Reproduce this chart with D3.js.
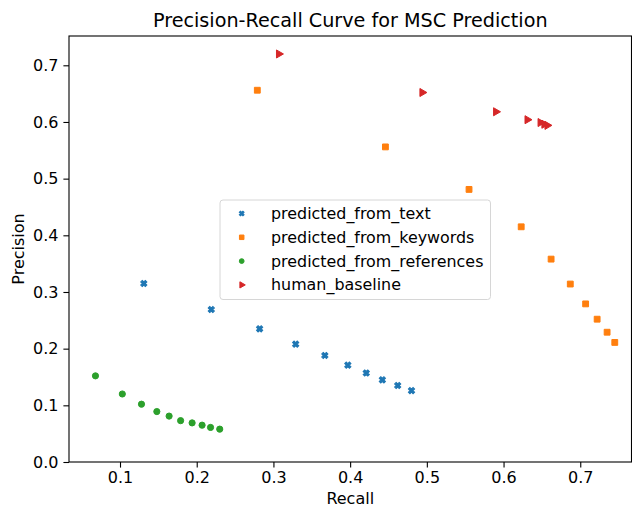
<!DOCTYPE html>
<html>
<head>
<meta charset="utf-8">
<script src="https://cdn.jsdelivr.net/npm/d3@7"></script>
<style>
  body { margin: 0; background: #fff; }
  svg text { font-family: "DejaVu Sans", sans-serif; fill: #000; }
</style>
</head>
<body>
<div id="chart"></div>
<script>
// data
const textRecall = [0.131, 0.219, 0.282, 0.329, 0.367, 0.397, 0.421, 0.442, 0.462, 0.480]
const textPrecision = [0.315, 0.269, 0.235, 0.208, 0.188, 0.171, 0.157, 0.145, 0.135, 0.126]
const keywordsRecall = [0.279, 0.446, 0.555, 0.623, 0.662, 0.687, 0.707, 0.722, 0.735, 0.745]
const keywordsPrecision = [0.656, 0.556, 0.481, 0.415, 0.358, 0.314, 0.279, 0.252, 0.229, 0.211]
const refsRecall = [0.068, 0.103, 0.128, 0.148, 0.164, 0.179, 0.194, 0.207, 0.218, 0.230]
const refsPrecision = [0.152, 0.120, 0.102, 0.089, 0.081, 0.073, 0.069, 0.065, 0.061, 0.058]
const humanRecall = [0.307, 0.494, 0.590, 0.631, 0.648, 0.653, 0.657]
const humanPrecision = [0.720, 0.652, 0.618, 0.604, 0.599, 0.596, 0.594]
const seriesNames = ['predicted_from_text', 'predicted_from_keywords', 'predicted_from_references', 'human_baseline']
const xTicks = [0.1, 0.2, 0.3, 0.4, 0.5, 0.6, 0.7]
const yTicks = [0.0, 0.1, 0.2, 0.3, 0.4, 0.5, 0.6, 0.7]

const width = 632, height = 509
const plotLeft = 69, plotRight = 631.5, plotTop = 36, plotBottom = 462

const x = d3.scaleLinear().domain([0.0335, 0.7668]).range([plotLeft, plotRight])
const y = d3.scaleLinear().domain([0, 0.7517]).range([plotBottom, plotTop])

const svg = d3.select('#chart').append('svg')
  .attr('width', width)
  .attr('height', height)

// axes
const xAxis = svg.append('g')
  .attr('transform', `translate(0,${plotBottom})`)
  .call(d3.axisBottom(x).tickValues(xTicks).tickFormat(d3.format('.1f')).tickSize(5.6).tickPadding(4.5))
const yAxis = svg.append('g')
  .attr('transform', `translate(${plotLeft},0)`)
  .call(d3.axisLeft(y).tickValues(yTicks).tickFormat(d3.format('.1f')).tickSize(5.6).tickPadding(5))

for (const g of [xAxis, yAxis]) {
  g.select('.domain').remove()
  g.selectAll('.tick line').attr('stroke', '#000').attr('stroke-width', 1.1)
  g.selectAll('.tick text').style('font-size', '16px').style('font-family', '"DejaVu Sans", sans-serif')
}

// frame
svg.append('rect')
  .attr('x', plotLeft).attr('y', plotTop)
  .attr('width', plotRight - plotLeft).attr('height', plotBottom - plotTop)
  .attr('fill', 'none').attr('stroke', '#000').attr('stroke-width', 1.1)

// series
const series = [
  { name: seriesNames[0], xs: textRecall, ys: textPrecision, color: '#1f77b4', sym: d3.symbolCross, size: 24, rot: 45 },
  { name: seriesNames[1], xs: keywordsRecall, ys: keywordsPrecision, color: '#ff7f0e', sym: d3.symbolSquare, size: 34, rot: 0 },
  { name: seriesNames[2], xs: refsRecall, ys: refsPrecision, color: '#2ca02c', sym: d3.symbolCircle, size: 30, rot: 0 },
  { name: seriesNames[3], xs: humanRecall, ys: humanPrecision, color: '#d62728', sym: d3.symbolTriangle, size: 28, rot: 90 }
]

series.forEach(s => {
  svg.append('g').selectAll('path')
    .data(s.xs.map((v, i) => [v, s.ys[i]]))
    .enter()
    .append('path')
    .attr('d', d3.symbol().type(s.sym).size(s.size))
    .attr('transform', d => `translate(${x(d[0])},${y(d[1])}) rotate(${s.rot})`)
    .attr('fill', s.color)
    .attr('stroke', s.color)
    .attr('stroke-width', 1)
})

// legend
const legend = svg.append('g').attr('transform', 'translate(220,200)')
legend.append('rect')
  .attr('width', 270.5).attr('height', 99.5)
  .attr('rx', 3)
  .attr('fill', '#fff').attr('fill-opacity', 0.8)
  .attr('stroke', '#d6d6d6').attr('stroke-width', 1)

series.forEach((s, i) => {
  const row = legend.append('g').attr('transform', `translate(0,${13.5 + i * 23.8})`)
  row.append('path')
    .attr('d', d3.symbol().type(s.sym).size(s.size * 0.6))
    .attr('transform', `translate(21.7,0) rotate(${s.rot})`)
    .attr('fill', s.color)
    .attr('stroke', s.color)
    .attr('stroke-width', 1)
  row.append('text')
    .attr('x', 51).attr('y', 0).attr('dy', '0.35em')
    .style('font-size', '15.9px')
    .text(s.name)
})

// titles
svg.append('text')
  .attr('x', (plotLeft + plotRight) / 2).attr('y', 27)
  .attr('text-anchor', 'middle')
  .style('font-size', '19.2px')
  .text('Precision-Recall Curve for MSC Prediction')

svg.append('text')
  .attr('x', (plotLeft + plotRight) / 2).attr('y', 504)
  .attr('text-anchor', 'middle')
  .style('font-size', '16px')
  .text('Recall')

svg.append('text')
  .attr('transform', `translate(24,${(plotTop + plotBottom) / 2}) rotate(-90)`)
  .attr('text-anchor', 'middle')
  .style('font-size', '16px')
  .text('Precision')
</script>
</body>
</html>
